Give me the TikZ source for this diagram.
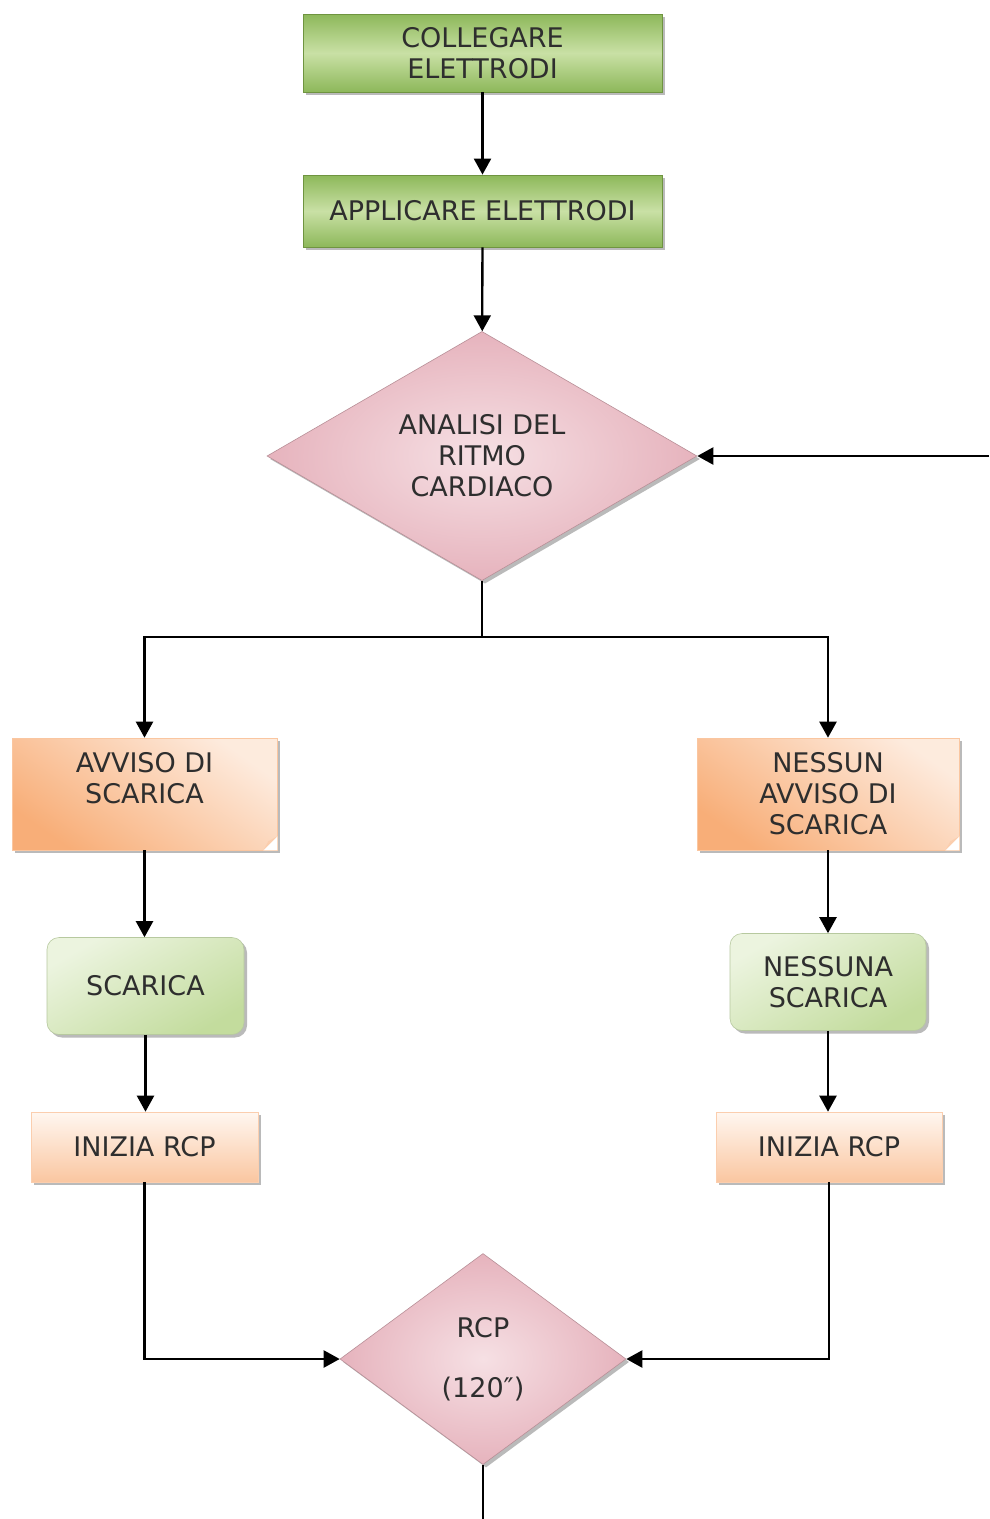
\documentclass[tikz,border=0pt]{standalone}
\usepackage{fontspec}
\setmainfont{DejaVu Sans}
\usetikzlibrary{arrows.meta,shapes.geometric,shadows}
\definecolor{gdark}{HTML}{8DB85A}
\definecolor{glight}{HTML}{C9E0A5}
\definecolor{gline}{HTML}{6F9440}
\definecolor{pdark}{HTML}{E6B3BD}
\definecolor{plight}{HTML}{F6E0E4}
\definecolor{odark}{HTML}{F8AE78}
\definecolor{olight}{HTML}{FFF1E6}
\definecolor{txt}{HTML}{2E2E2E}
\tikzset{
  base/.style={align=center, text=txt, inner sep=0pt,
    font=\fontsize{27}{31}\selectfont,
    drop shadow={shadow xshift=3pt, shadow yshift=-3pt, fill=black!45, opacity=0.6}},
  gbox/.style={base, rectangle, draw=gline, line width=0.8pt,
    top color=gdark, bottom color=gdark, middle color=glight},
  sbox/.style={base, rectangle, rounded corners=12pt, draw=gline!50, line width=0.6pt,
    top color=glight!35, bottom color=glight!90!gdark, shading angle=30},
  obox/.style={base, rectangle, draw=odark!70, line width=0.6pt,
    top color=odark!25!white, bottom color=odark, shading angle=-35},
  ibox/.style={base, rectangle, draw=odark!60, line width=0.6pt,
    top color=olight!60, bottom color=odark!70},
  dia/.style={base, diamond, draw=pdark!80!black, line width=0.6pt,
    inner color=plight, outer color=pdark},
  arr/.style={line width=2.3pt, -{Triangle[width=17pt,length=16pt]}},
  ln/.style={line width=2.3pt}
}
\begin{document}
\begin{tikzpicture}[x=1pt,y=-1pt]
\useasboundingbox[fill=white] (0,0) rectangle (989,1519);

\node[gbox, minimum width=359, minimum height=78] (c1) at (482.5,53) {COLLEGARE\\ELETTRODI};
\node[gbox, minimum width=359, minimum height=72] (c2) at (482.5,211) {APPLICARE ELETTRODI};
\node[dia, minimum width=430, minimum height=247] (d1) at (482,456) {ANALISI DEL\\RITMO\\CARDIACO};

\node[obox, minimum width=265, minimum height=112] (a1) at (144.5,794) {AVVISO DI\\SCARICA\\[1pt]};
\node[obox, minimum width=262, minimum height=112] (a2) at (828,794) {NESSUN\\AVVISO DI\\SCARICA};

\node[sbox, minimum width=197, minimum height=97] (s1) at (145.5,986) {SCARICA};
\node[sbox, minimum width=196, minimum height=97] (s2) at (828,982) {NESSUNA\\SCARICA};

\node[ibox, minimum width=227, minimum height=70] (i1) at (144.5,1147) {INIZIA RCP};
\node[ibox, minimum width=226, minimum height=70] (i2) at (829,1147) {INIZIA RCP};

\node[dia, minimum width=286, minimum height=211, font=\fontsize{27}{60}\selectfont] (d2) at (483,1359) {RCP\\(120″)};

% folded corners
\foreach \n in {a1,a2}{
  \fill[white] ([xshift=-14pt]\n.south east) -- (\n.south east) -- ([yshift=14pt]\n.south east) -- cycle;
  \fill[odark!60!white] ([xshift=-14pt]\n.south east) -- ([yshift=14pt]\n.south east) -- ([xshift=-9pt,yshift=9pt]\n.south east) -- cycle;
}

\coordinate (fb) at (989,456);
\coordinate (bot) at (483,1519);

\draw[arr] (c1) -- (c2);
\draw[arr] (c2) -- (d1);
\draw[arr] (fb) -- (d1.east);
\draw[ln] (d1.south) -- ++(0,56) coordinate (split);
\draw[arr] (split) -| (a1.north);
\draw[arr] (split) -| (a2.north);
\draw[arr] (a1.south) -- (a1.south |- s1.north);
\draw[arr] (a2.south) -- (a2.south |- s2.north);
\draw[arr] (s1.south) -- (s1.south |- i1.north);
\draw[arr] (s2.south) -- (s2.south |- i2.north);
\draw[arr] (i1.south) |- (d2.west);
\draw[arr] (i2.south) |- (d2.east);
\draw[ln] (d2.south) -- (bot);
\end{tikzpicture}
\end{document}
